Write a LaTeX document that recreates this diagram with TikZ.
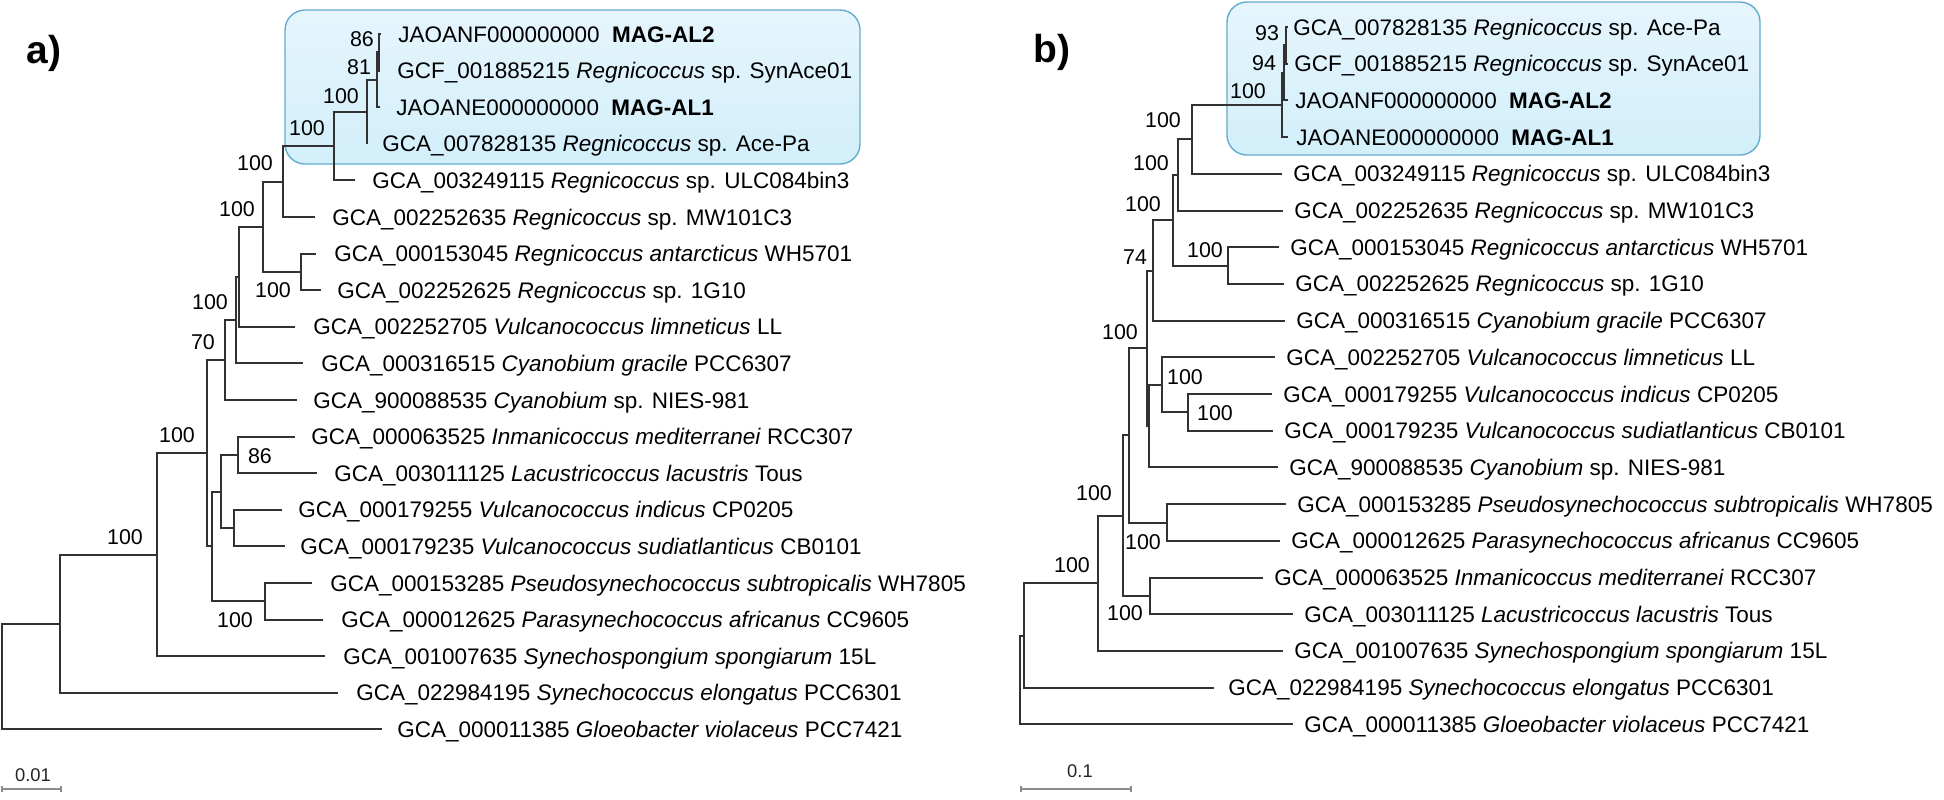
\documentclass[tikz,border=0pt]{standalone}
\usepackage{fontspec}
\setmainfont{Liberation Sans}
\definecolor{treeline}{RGB}{50,50,50}
\definecolor{boxtop}{RGB}{230,245,252}
\definecolor{boxbot}{RGB}{210,239,250}
\definecolor{boxedge}{RGB}{100,172,205}
\definecolor{scalegray}{RGB}{140,140,140}
\begin{document}
\begin{tikzpicture}[x=0.5pt,y=-0.5pt,
  br/.style={draw=treeline, line width=1pt},
  leaf/.style={anchor=base west, inner sep=0pt, font=\fontsize{11.25}{13}\selectfont},
  bs/.style={inner sep=0pt, font=\fontsize{10.7}{12}\selectfont},
  panel/.style={font=\fontsize{19.5}{22}\selectfont\bfseries, inner sep=0pt},
  clade/.style={draw=boxedge, line width=0.7pt, rounded corners=10pt, top color=boxtop, bottom color=boxbot},
  sbar/.style={draw=scalegray, line width=0.8pt},
  sblab/.style={font=\fontsize{9.2}{10}\selectfont, inner sep=0pt, text=black!85},
]
\useasboundingbox (0,0) rectangle (1944,799);

% ---------------- boxes ----------------
\path[clade] (285,10) rectangle (860,164);
\path[clade] (1227,2) rectangle (1760,155);

% ---------------- panel letters ----------------
\node[panel] (pa) at (44,53) {a)};
\node[panel] (pb) at (1052,52) {b)};

% ================= PANEL A =================
\coordinate (la1) at (381,34.0);
\coordinate (la2) at (380,70.6);
\coordinate (la3) at (380,107.2);
\coordinate (la4) at (367,143.8);
\coordinate (la5) at (355,180.4);
\coordinate (la6) at (315,217.0);
\coordinate (la7) at (316,253.6);
\coordinate (la8) at (321,290.2);
\coordinate (la9) at (295,326.8);
\coordinate (la10) at (303,363.4);
\coordinate (la11) at (297,400.0);
\coordinate (la12) at (295,436.6);
\coordinate (la13) at (317,473.2);
\coordinate (la14) at (282,509.8);
\coordinate (la15) at (285,546.4);
\coordinate (la16) at (312,583.0);
\coordinate (la17) at (323,619.6);
\coordinate (la18) at (325,656.2);
\coordinate (la19) at (338,692.8);
\coordinate (la20) at (382,729.4);
\coordinate (na379) at (379,52.3);
\coordinate (na377) at (377,79.8);
\coordinate (na367) at (367,111.8);
\coordinate (na334) at (334,146.1);
\coordinate (na283) at (283,181.6);
\coordinate (na301) at (301,271.9);
\coordinate (na263) at (263,226.7);
\coordinate (na239) at (239,276.8);
\coordinate (na236) at (236,320.1);
\coordinate (na225) at (225,360.0);
\coordinate (na238) at (238,454.9);
\coordinate (na234) at (234,528.1);
\coordinate (na221) at (221,491.5);
\coordinate (na265) at (265,601.3);
\coordinate (na212) at (212,546.4);
\coordinate (na207) at (207,453.2);
\coordinate (na157) at (157,554.7);
\coordinate (na60) at (60,623.8);
\coordinate (naroot) at (2,676.6);

\draw[br] (na379) |- (la1);  \draw[br] (na379) |- (la2);
\draw[br] (na377) |- (na379); \draw[br] (na377) |- (la3);
\draw[br] (na367) |- (na377); \draw[br] (na367) |- (la4);
\draw[br] (na334) |- (na367); \draw[br] (na334) |- (la5);
\draw[br] (na283) |- (na334); \draw[br] (na283) |- (la6);
\draw[br] (na301) |- (la7);  \draw[br] (na301) |- (la8);
\draw[br] (na263) |- (na283); \draw[br] (na263) |- (na301);
\draw[br] (na239) |- (na263); \draw[br] (na239) |- (la9);
\draw[br] (na236) |- (na239); \draw[br] (na236) |- (la10);
\draw[br] (na225) |- (na236); \draw[br] (na225) |- (la11);
\draw[br] (na238) |- (la12); \draw[br] (na238) |- (la13);
\draw[br] (na234) |- (la14); \draw[br] (na234) |- (la15);
\draw[br] (na221) |- (na238); \draw[br] (na221) |- (na234);
\draw[br] (na265) |- (la16); \draw[br] (na265) |- (la17);
\draw[br] (na212) |- (na221); \draw[br] (na212) |- (na265);
\draw[br] (na207) |- (na225); \draw[br] (na207) |- (na212);
\draw[br] (na157) |- (na207); \draw[br] (na157) |- (la18);
\draw[br] (na60) |- (na157); \draw[br] (na60) |- (la19);
\draw[br] (naroot) |- (na60); \draw[br] (naroot) |- (la20);

\node[leaf] (ta1) at (398,42.0) {JAOANF000000000\hspace{0.55em}\textbf{MAG-AL2}};
\node[leaf] (ta2) at (397,78.6) {GCF\_001885215 \textit{Regnicoccus} sp. SynAce01};
\node[leaf] (ta3) at (396,115.2) {JAOANE000000000\hspace{0.55em}\textbf{MAG-AL1}};
\node[leaf] (ta4) at (382,151.8) {GCA\_007828135 \textit{Regnicoccus} sp. Ace-Pa};
\node[leaf] (ta5) at (372,188.4) {GCA\_003249115 \textit{Regnicoccus} sp. ULC084bin3};
\node[leaf] (ta6) at (332,225.0) {GCA\_002252635 \textit{Regnicoccus} sp. MW101C3};
\node[leaf] (ta7) at (334,261.6) {GCA\_000153045 \textit{Regnicoccus antarcticus} WH5701};
\node[leaf] (ta8) at (337,298.2) {GCA\_002252625 \textit{Regnicoccus} sp. 1G10};
\node[leaf] (ta9) at (313,334.8) {GCA\_002252705 \textit{Vulcanococcus limneticus} LL};
\node[leaf] (ta10) at (321,371.4) {GCA\_000316515 \textit{Cyanobium gracile} PCC6307};
\node[leaf] (ta11) at (313,408.0) {GCA\_900088535 \textit{Cyanobium} sp. NIES-981};
\node[leaf] (ta12) at (311,444.6) {GCA\_000063525 \textit{Inmanicoccus mediterranei} RCC307};
\node[leaf] (ta13) at (334,481.2) {GCA\_003011125 \textit{Lacustricoccus lacustris} Tous};
\node[leaf] (ta14) at (298,517.8) {GCA\_000179255 \textit{Vulcanococcus indicus} CP0205};
\node[leaf] (ta15) at (300,554.4) {GCA\_000179235 \textit{Vulcanococcus sudiatlanticus} CB0101};
\node[leaf] (ta16) at (330,591.0) {GCA\_000153285 \textit{Pseudosynechococcus subtropicalis} WH7805};
\node[leaf] (ta17) at (341,627.6) {GCA\_000012625 \textit{Parasynechococcus africanus} CC9605};
\node[leaf] (ta18) at (343,664.2) {GCA\_001007635 \textit{Synechospongium spongiarum} 15L};
\node[leaf] (ta19) at (356,700.8) {GCA\_022984195 \textit{Synechococcus elongatus} PCC6301};
\node[leaf] (ta20) at (397,737.4) {GCA\_000011385 \textit{Gloeobacter violaceus} PCC7421};

\node[bs] (ba1) at (362,39) {86};
\node[bs] (ba2) at (359,67) {81};
\node[bs] (ba3) at (341,96) {100};
\node[bs] (ba4) at (307,128) {100};
\node[bs] (ba5) at (255,163) {100};
\node[bs] (ba6) at (237,209) {100};
\node[bs] (ba7) at (273,290) {100};
\node[bs] (ba8) at (210,302) {100};
\node[bs] (ba9) at (203,342) {70};
\node[bs] (ba10) at (177,435) {100};
\node[bs] (ba11) at (260,456) {86};
\node[bs] (ba12) at (125,537) {100};
\node[bs] (ba13) at (235,620) {100};

\coordinate (sa1) at (2,789);
\coordinate (sa2) at (61,789);
\draw[sbar] (sa1) -- (sa2);
\draw[sbar] ([yshift=1.5pt]sa1) -- ([yshift=-1.5pt]sa1);
\draw[sbar] ([yshift=1.5pt]sa2) -- ([yshift=-1.5pt]sa2);
\node[sblab] (sla) at (33,775) {0.01};

% ================= PANEL B =================
\coordinate (lb1) at (1288,27.0);
\coordinate (lb2) at (1288,63.7);
\coordinate (lb3) at (1288,100.4);
\coordinate (lb4) at (1288,137.1);
\coordinate (lb5) at (1282,173.8);
\coordinate (lb6) at (1283,210.5);
\coordinate (lb7) at (1279,247.2);
\coordinate (lb8) at (1284,283.9);
\coordinate (lb9) at (1285,320.6);
\coordinate (lb10) at (1275,357.3);
\coordinate (lb11) at (1272,394.0);
\coordinate (lb12) at (1273,430.7);
\coordinate (lb13) at (1278,467.4);
\coordinate (lb14) at (1286,504.1);
\coordinate (lb15) at (1280,540.8);
\coordinate (lb16) at (1263,577.5);
\coordinate (lb17) at (1293,614.2);
\coordinate (lb18) at (1283,650.9);
\coordinate (lb19) at (1214,687.6);
\coordinate (lb20) at (1293,724.3);

\coordinate (nb93) at (1286,45.4);
\coordinate (nb94) at (1284,72.9);
\coordinate (nbC) at (1282,105.0);
\coordinate (nb1192) at (1192,139.4);
\coordinate (nb1178) at (1178,175.0);
\coordinate (nb1228) at (1228,265.6);
\coordinate (nb1173) at (1173,220.3);
\coordinate (nb1153) at (1153,270.5);
\coordinate (nb1188) at (1188,412.4);
\coordinate (nb1162) at (1162,384.9);
\coordinate (nb1149) at (1149,426.2);
\coordinate (nb1147) at (1147,348.3);
\coordinate (nb1167) at (1167,522.5);
\coordinate (nb1129) at (1129,435.4);
\coordinate (nb1150) at (1150,595.9);
\coordinate (nb1123) at (1123,515.6);
\coordinate (nb1098) at (1098,583.3);
\coordinate (nb1024) at (1024,635.5);
\coordinate (nbroot) at (1020,679.9);

\draw[br] (nb93) |- (lb1); \draw[br] (nb93) |- (lb2);
\draw[br] (nb94) |- (nb93); \draw[br] (nb94) |- (lb3);
\draw[br] (nbC) |- (nb94); \draw[br] (nbC) |- (lb4);
\draw[br] (nb1192) |- (nbC); \draw[br] (nb1192) |- (lb5);
\draw[br] (nb1178) |- (nb1192); \draw[br] (nb1178) |- (lb6);
\draw[br] (nb1228) |- (lb7); \draw[br] (nb1228) |- (lb8);
\draw[br] (nb1173) |- (nb1178); \draw[br] (nb1173) |- (nb1228);
\draw[br] (nb1153) |- (nb1173); \draw[br] (nb1153) |- (lb9);
\draw[br] (nb1188) |- (lb11); \draw[br] (nb1188) |- (lb12);
\draw[br] (nb1162) |- (lb10); \draw[br] (nb1162) |- (nb1188);
\draw[br] (nb1149) |- (nb1162); \draw[br] (nb1149) |- (lb13);
\draw[br] (nb1147) |- (nb1153); \draw[br] (nb1147) |- (nb1149);
\draw[br] (nb1167) |- (lb14); \draw[br] (nb1167) |- (lb15);
\draw[br] (nb1129) |- (nb1147); \draw[br] (nb1129) |- (nb1167);
\draw[br] (nb1150) |- (lb16); \draw[br] (nb1150) |- (lb17);
\draw[br] (nb1123) |- (nb1129); \draw[br] (nb1123) |- (nb1150);
\draw[br] (nb1098) |- (nb1123); \draw[br] (nb1098) |- (lb18);
\draw[br] (nb1024) |- (nb1098); \draw[br] (nb1024) |- (lb19);
\draw[br] (nbroot) |- (nb1024); \draw[br] (nbroot) |- (lb20);

\node[leaf] (tb1) at (1293,35.0) {GCA\_007828135 \textit{Regnicoccus} sp. Ace-Pa};
\node[leaf] (tb2) at (1294,71.7) {GCF\_001885215 \textit{Regnicoccus} sp. SynAce01};
\node[leaf] (tb3) at (1295,108.4) {JAOANF000000000\hspace{0.55em}\textbf{MAG-AL2}};
\node[leaf] (tb4) at (1296,145.1) {JAOANE000000000\hspace{0.55em}\textbf{MAG-AL1}};
\node[leaf] (tb5) at (1293,181.8) {GCA\_003249115 \textit{Regnicoccus} sp. ULC084bin3};
\node[leaf] (tb6) at (1294,218.5) {GCA\_002252635 \textit{Regnicoccus} sp. MW101C3};
\node[leaf] (tb7) at (1290,255.2) {GCA\_000153045 \textit{Regnicoccus antarcticus} WH5701};
\node[leaf] (tb8) at (1295,291.9) {GCA\_002252625 \textit{Regnicoccus} sp. 1G10};
\node[leaf] (tb9) at (1296,328.6) {GCA\_000316515 \textit{Cyanobium gracile} PCC6307};
\node[leaf] (tb10) at (1286,365.3) {GCA\_002252705 \textit{Vulcanococcus limneticus} LL};
\node[leaf] (tb11) at (1283,402.0) {GCA\_000179255 \textit{Vulcanococcus indicus} CP0205};
\node[leaf] (tb12) at (1284,438.7) {GCA\_000179235 \textit{Vulcanococcus sudiatlanticus} CB0101};
\node[leaf] (tb13) at (1289,475.4) {GCA\_900088535 \textit{Cyanobium} sp. NIES-981};
\node[leaf] (tb14) at (1297,512.1) {GCA\_000153285 \textit{Pseudosynechococcus subtropicalis} WH7805};
\node[leaf] (tb15) at (1291,548.8) {GCA\_000012625 \textit{Parasynechococcus africanus} CC9605};
\node[leaf] (tb16) at (1274,585.5) {GCA\_000063525 \textit{Inmanicoccus mediterranei} RCC307};
\node[leaf] (tb17) at (1304,622.2) {GCA\_003011125 \textit{Lacustricoccus lacustris} Tous};
\node[leaf] (tb18) at (1294,658.9) {GCA\_001007635 \textit{Synechospongium spongiarum} 15L};
\node[leaf] (tb19) at (1228,695.6) {GCA\_022984195 \textit{Synechococcus elongatus} PCC6301};
\node[leaf] (tb20) at (1304,732.3) {GCA\_000011385 \textit{Gloeobacter violaceus} PCC7421};

\node[bs] (bb1) at (1267,33) {93};
\node[bs] (bb2) at (1264,63) {94};
\node[bs] (bb3) at (1248,91) {100};
\node[bs] (bb4) at (1163,120) {100};
\node[bs] (bb5) at (1151,163) {100};
\node[bs] (bb6) at (1143,204) {100};
\node[bs] (bb7) at (1205,250) {100};
\node[bs] (bb8) at (1135,257) {74};
\node[bs] (bb9) at (1120,332) {100};
\node[bs] (bb10) at (1185,377) {100};
\node[bs] (bb11) at (1215,413) {100};
\node[bs] (bb12) at (1094,493) {100};
\node[bs] (bb13) at (1143,542) {100};
\node[bs] (bb14) at (1072,565) {100};
\node[bs] (bb15) at (1125,613) {100};

\coordinate (sb1) at (1021,789);
\coordinate (sb2) at (1131,789);
\draw[sbar] (sb1) -- (sb2);
\draw[sbar] ([yshift=1.5pt]sb1) -- ([yshift=-1.5pt]sb1);
\draw[sbar] ([yshift=1.5pt]sb2) -- ([yshift=-1.5pt]sb2);
\node[sblab] (slb) at (1080,771) {0.1};
\end{tikzpicture}
\end{document}
